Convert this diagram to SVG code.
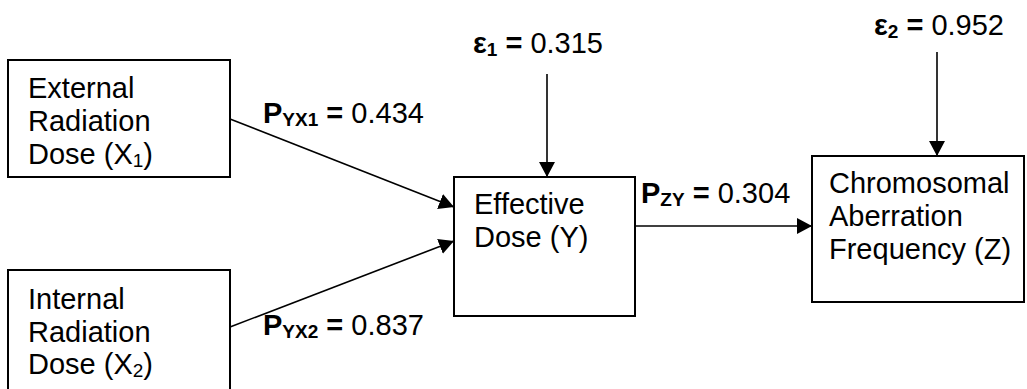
<svg xmlns="http://www.w3.org/2000/svg" width="1027" height="389" viewBox="0 0 1027 389">
<style>
.box{fill:#fff;stroke:#000;stroke-width:2}
.t{font-family:"Liberation Sans",Arial,sans-serif;font-size:29px;fill:#000}
.b{font-weight:bold}
.conn{stroke:#000;stroke-width:1.6;fill:none;marker-end:url(#ah)}
</style>
<defs>
<marker id="ah" viewBox="0 0 15 16" refX="15" refY="8" markerWidth="15" markerHeight="16" markerUnits="userSpaceOnUse" orient="auto">
<path d="M0,0 L15,8 L0,16 z" fill="#000"/>
</marker>
</defs>
<rect width="1027" height="389" fill="#fff"/>
<g id="connectors">
<line class="conn" x1="230" y1="119" x2="454" y2="207"/>
<line class="conn" x1="230" y1="327" x2="454" y2="241"/>
<line class="conn" x1="547" y1="74" x2="547" y2="177"/>
<line class="conn" x1="635" y1="226" x2="812" y2="226"/>
<line class="conn" x1="937" y1="52" x2="937" y2="156"/>
</g>
<g id="labels">
<text class="t" x="263" y="123"><tspan class="b">P</tspan><tspan class="b" font-size="19" dy="3">YX1</tspan><tspan class="b" dy="-3"> = </tspan>0.434</text>
<text class="t" x="263" y="335"><tspan class="b">P</tspan><tspan class="b" font-size="19" dy="3">YX2</tspan><tspan class="b" dy="-3"> = </tspan>0.837</text>
<text class="t" x="473" y="53"><tspan class="b">ε</tspan><tspan class="b" font-size="19" dy="3">1</tspan><tspan class="b" dy="-3"> = </tspan>0.315</text>
<text class="t" x="641" y="203"><tspan class="b">P</tspan><tspan class="b" font-size="19" dy="3">ZY</tspan><tspan class="b" dy="-3"> = </tspan>0.304</text>
<text class="t" x="874" y="35"><tspan class="b">ε</tspan><tspan class="b" font-size="19" dy="3">2</tspan><tspan class="b" dy="-3"> = </tspan>0.952</text>
</g>
<g id="node-x1">
<rect class="box" x="8" y="60" width="222" height="117"/>
<text class="t" x="28" y="98">External</text>
<text class="t" x="28" y="131">Radiation</text>
<text class="t" x="28" y="164">Dose (X<tspan font-size="19" dy="3">1</tspan><tspan dy="-3">)</tspan></text>
</g>
<g id="node-x2">
<rect class="box" x="8" y="270" width="222" height="125"/>
<text class="t" x="28" y="309">Internal</text>
<text class="t" x="28" y="342">Radiation</text>
<text class="t" x="28" y="374">Dose (X<tspan font-size="19" dy="3">2</tspan><tspan dy="-3">)</tspan></text>
</g>
<g id="node-y">
<rect class="box" x="454" y="177" width="181" height="139"/>
<text class="t" x="474" y="214">Effective</text>
<text class="t" x="474" y="247">Dose (Y)</text>
</g>
<g id="node-z">
<rect class="box" x="812" y="156" width="212" height="146"/>
<text class="t" x="829" y="193">Chromosomal</text>
<text class="t" x="829" y="226">Aberration</text>
<text class="t" x="829" y="259">Frequency (Z)</text>
</g>
</svg>
